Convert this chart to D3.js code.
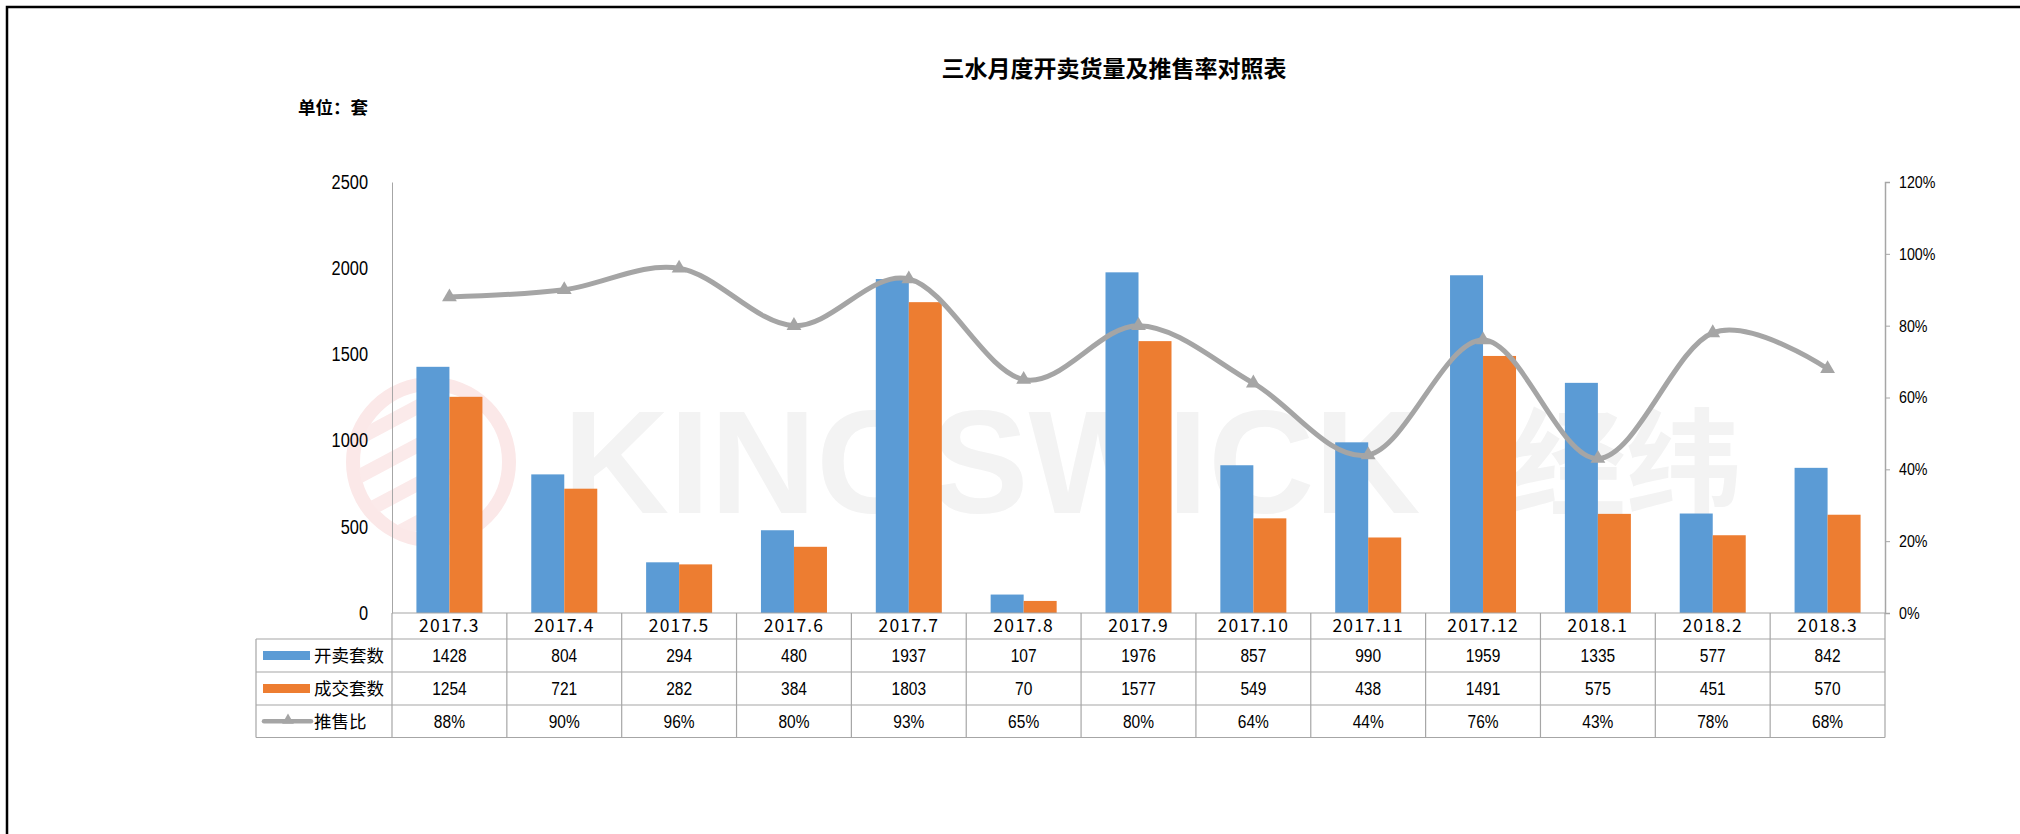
<!DOCTYPE html>
<html>
<head>
<meta charset="utf-8">
<script src="https://cdn.jsdelivr.net/npm/d3@7"></script>
<style>
  body { margin: 0; background: #fff; }
  svg { display: block; }
</style>
</head>
<body>
<div id="chart"></div>
<script>
// data
var categories = ["2017.3", "2017.4", "2017.5", "2017.6", "2017.7", "2017.8", "2017.9",
  "2017.10", "2017.11", "2017.12", "2018.1", "2018.2", "2018.3"];
var openUnits = [1428, 804, 294, 480, 1937, 107, 1976, 857, 990, 1959, 1335, 577, 842];
var dealUnits = [1254, 721, 282, 384, 1803, 70, 1577, 549, 438, 1491, 575, 451, 570];
var sellRatio = [0.88, 0.90, 0.96, 0.80, 0.93, 0.65, 0.80, 0.64, 0.44, 0.76, 0.43, 0.78, 0.68];
var seriesNames = ["开卖套数", "成交套数", "推售比"];
var leftTicks = [0, 500, 1000, 1500, 2000, 2500];
var rightTicks = [0, 0.2, 0.4, 0.6, 0.8, 1.0, 1.2];

var W = 2020, H = 834;
var colors = ["#5b9bd5", "#ed7d31", "#a5a5a5"];
var gridColor = "#a6a6a6";
var numFont = "'Liberation Sans', Arial, sans-serif";
var cjkFont = "'Noto Sans CJK SC', 'Noto Sans', sans-serif";
var squeeze = 0.84; // the source font is a narrow one

var plotL = 392, plotR = 1885, plotT = 182, plotB = 613;
var legendL = 256;
var rowH = [26, 33, 33, 32.5];

var svg = d3.select("#chart").append("svg")
  .attr("width", W).attr("height", H);

// frame
svg.append("path")
  .attr("d", "M7,834 L7,7 L2020,7")
  .attr("fill", "none").attr("stroke", "#000").attr("stroke-width", 2.5);

// titles
svg.append("text")
  .attr("x", 1114).attr("y", 77)
  .attr("text-anchor", "middle")
  .style("font-family", cjkFont).style("font-weight", "bold").style("font-size", "23px")
  .text("三水月度开卖货量及推售率对照表");
svg.append("text")
  .attr("x", 298).attr("y", 114)
  .style("font-family", cjkFont).style("font-weight", "bold").style("font-size", "17.5px")
  .text("单位：套");

// watermark
var wm = svg.append("g").attr("class", "watermark");
wm.append("circle").attr("cx", 431).attr("cy", 462).attr("r", 78)
  .attr("fill", "none").attr("stroke", "#fbe8e8").attr("stroke-width", 14);
wm.append("clipPath").attr("id", "logoClip")
  .append("circle").attr("cx", 431).attr("cy", 462).attr("r", 72);
[0, 1, 2, 3].forEach(function (i) {
  wm.append("rect")
    .attr("x", 340).attr("y", 400 + i * 34).attr("width", 110).attr("height", 14)
    .attr("fill", "#fbeaea")
    .attr("transform", "rotate(-28,431,462)")
    .attr("clip-path", "url(#logoClip)");
});
wm.append("text")
  .attr("x", 563).attr("y", 513)
  .style("font-family", numFont).style("font-weight", "bold").style("font-size", "147px")
  .attr("fill", "#f3f3f3")
  .text("KINGSWICK");
wm.append("text")
  .attr("x", 1510).attr("y", 506)
  .style("font-family", cjkFont).style("font-weight", "bold").style("font-size", "116px")
  .attr("fill", "#f3f3f3")
  .text("经纬");

// scales
var x = d3.scaleBand().domain(categories).range([plotL, plotR]);
var xInner = d3.scaleBand().domain([0, 1]).range([0, x.bandwidth()]).paddingOuter(0.74);
var yLeft = d3.scaleLinear().domain([0, 2500]).range([plotB, plotT]);
var yRight = d3.scaleLinear().domain([0, 1.2]).range([plotB, plotT]);

// left axis
var axL = svg.append("g").attr("transform", "translate(" + plotL + ",0)")
  .call(d3.axisLeft(yLeft).tickValues(leftTicks).tickSize(0).tickPadding(24)
    .tickFormat(d3.format("d")));
axL.select(".domain").attr("stroke", gridColor);
axL.selectAll(".tick text")
  .attr("x", -24 / squeeze)
  .attr("transform", "scale(" + squeeze + ",1)")
  .style("font-family", numFont).style("font-size", "19.5px").attr("fill", "#000");

// right axis
var axR = svg.append("g").attr("transform", "translate(" + plotR + ",0)")
  .call(d3.axisRight(yRight).tickValues(rightTicks).tickSize(5).tickPadding(9)
    .tickFormat(d3.format(".0%")));
axR.select(".domain").attr("stroke", gridColor).attr("stroke-width", 1.5);
axR.selectAll(".tick line").attr("stroke", gridColor);
axR.selectAll(".tick text")
  .attr("x", 14 / squeeze)
  .attr("transform", "scale(" + squeeze + ",1)")
  .style("font-family", numFont).style("font-size", "17px").attr("fill", "#000");

// bars
var barSeries = [openUnits, dealUnits];
barSeries.forEach(function (vals, si) {
  svg.append("g").selectAll("rect")
    .data(vals)
    .join("rect")
    .attr("x", function (d, i) { return x(categories[i]) + xInner(si); })
    .attr("width", xInner.bandwidth())
    .attr("y", function (d) { return yLeft(d); })
    .attr("height", function (d) { return plotB - yLeft(d); })
    .attr("fill", colors[si]);
});

// ratio line
var line = d3.line()
  .x(function (d, i) { return x(categories[i]) + x.bandwidth() / 2; })
  .y(function (d) { return yRight(d); })
  .curve(d3.curveCardinal.tension(0));
svg.append("path")
  .datum(sellRatio)
  .attr("d", line)
  .attr("fill", "none")
  .attr("stroke", colors[2])
  .attr("stroke-width", 5)
  .attr("stroke-linecap", "round");
var tri = d3.symbol(d3.symbolTriangle).size(95);
svg.append("g").selectAll("path")
  .data(sellRatio)
  .join("path")
  .attr("d", tri)
  .attr("transform", function (d, i) {
    return "translate(" + (x(categories[i]) + x.bandwidth() / 2) + "," + yRight(d) + ")";
  })
  .attr("fill", colors[2]);

// data table
var rowTop = [plotB];
rowH.forEach(function (h, i) { rowTop.push(rowTop[i] + h); });
var tbl = svg.append("g").attr("stroke", gridColor).attr("stroke-width", 1.2);
// horizontal lines
tbl.append("line").attr("x1", plotL).attr("x2", plotR).attr("y1", rowTop[0]).attr("y2", rowTop[0]);
for (var r = 1; r < rowTop.length; r++) {
  tbl.append("line").attr("x1", legendL).attr("x2", plotR)
    .attr("y1", rowTop[r]).attr("y2", rowTop[r]);
}
// vertical lines
tbl.append("line").attr("x1", legendL).attr("x2", legendL).attr("y1", rowTop[1]).attr("y2", rowTop[4]);
categories.concat([null]).forEach(function (c, i) {
  var xx = i < categories.length ? x(c) : plotR;
  tbl.append("line").attr("x1", xx).attr("x2", xx).attr("y1", rowTop[0]).attr("y2", rowTop[4]);
});

function midRow(r) { return (rowTop[r] + rowTop[r + 1]) / 2; }

// category labels
svg.append("g").selectAll("text")
  .data(categories)
  .join("text")
  .attr("x", function (d) { return x(d) + x.bandwidth() / 2; })
  .attr("y", midRow(0))
  .attr("dy", "0.36em")
  .attr("text-anchor", "middle")
  .style("font-family", cjkFont).style("font-size", "17.5px")
  .style("letter-spacing", "1.2px")
  .text(function (d) { return d; });

// value rows
var fmtPct = d3.format(".0%");
var rowsData = [
  openUnits.map(String),
  dealUnits.map(String),
  sellRatio.map(function (v) { return fmtPct(v); })
];
rowsData.forEach(function (vals, ri) {
  svg.append("g").selectAll("text")
    .data(vals)
    .join("text")
    .attr("transform", function (d, i) {
      return "translate(" + (x(categories[i]) + x.bandwidth() / 2) + "," + midRow(ri + 1) +
        ") scale(" + squeeze + ",1)";
    })
    .attr("dy", "0.36em")
    .attr("text-anchor", "middle")
    .style("font-family", numFont).style("font-size", "18.5px")
    .text(function (d) { return d; });
});

// legend keys inside the table
seriesNames.forEach(function (name, i) {
  var cy = midRow(i + 1);
  if (i < 2) {
    svg.append("rect")
      .attr("x", 263).attr("y", cy - 4.5).attr("width", 47).attr("height", 9)
      .attr("fill", colors[i]);
  } else {
    svg.append("line")
      .attr("x1", 264).attr("x2", 311).attr("y1", cy).attr("y2", cy)
      .attr("stroke", colors[2]).attr("stroke-width", 4.5).attr("stroke-linecap", "round");
    svg.append("path")
      .attr("d", d3.symbol(d3.symbolTriangle).size(60))
      .attr("transform", "translate(288," + (cy - 1) + ")")
      .attr("fill", colors[2]);
  }
  svg.append("text")
    .attr("x", 314).attr("y", cy)
    .attr("dy", "0.36em")
    .style("font-family", cjkFont).style("font-size", "17.5px")
    .text(name);
});
</script>
</body>
</html>
